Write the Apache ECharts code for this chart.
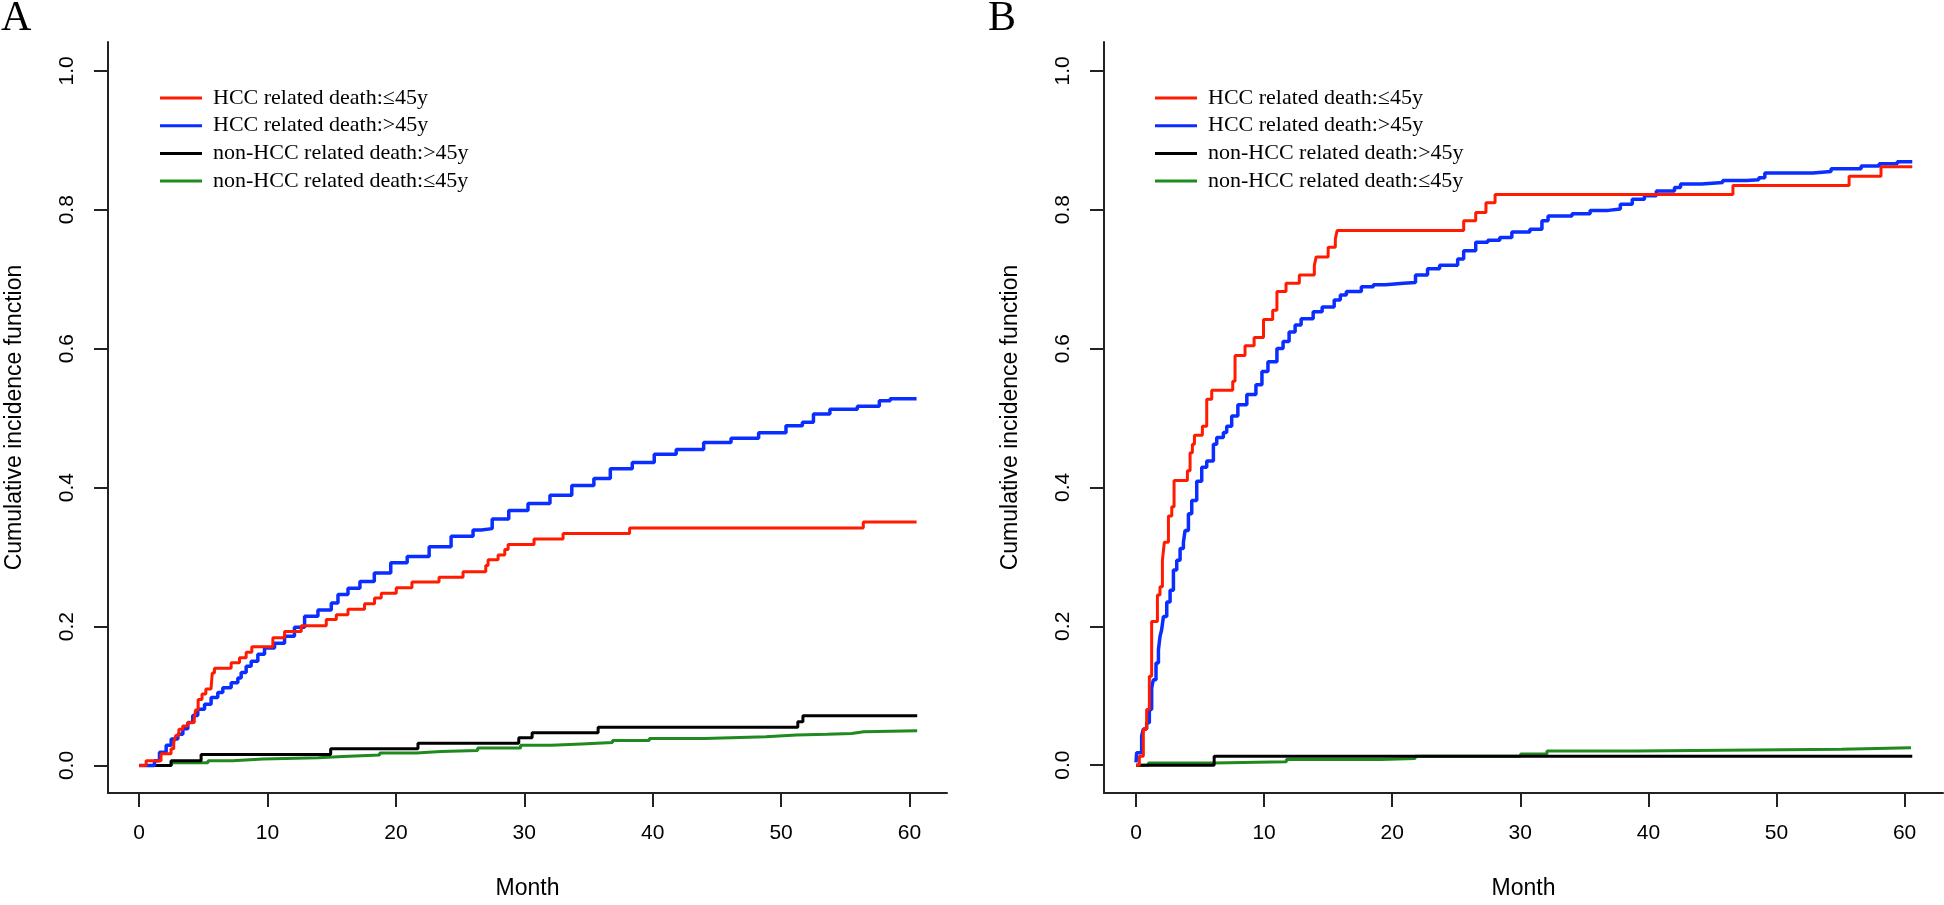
<!DOCTYPE html>
<html>
<head>
<meta charset="utf-8">
<script src="https://cdn.jsdelivr.net/npm/echarts@6/dist/echarts.min.js"></script>
<style>
  html, body { margin: 0; padding: 0; background: #fff; }
  #chart { width: 1944px; height: 905px; }
</style>
</head>
<body>
<div id="chart"></div>
<script>
// legend labels, same order in both panels
const seriesNames = [
  "HCC related death:\u226445y",
  "HCC related death:>45y",
  "non-HCC related death:>45y",
  "non-HCC related death:\u226445y",
];
const seriesColors = ["#ff1a00", "#0a2eff", "#000000", "#1f8a1f"];

const monthTicks = [0, 10, 20, 30, 40, 50, 60];
const cifTicks = [0, 0.2, 0.4, 0.6, 0.8, 1.0];

// panel A: [month, cumulative incidence]
const aHccYoung = [
  [0, 0], [0.55, 0.007], [1.71, 0.017], [2.49, 0.024], [2.7, 0.033], [2.85, 0.043],
  [3.1, 0.052], [3.4, 0.057], [3.8, 0.062], [4.3, 0.067], [4.4, 0.08], [4.6, 0.095],
  [4.9, 0.103], [5.2, 0.11], [5.6, 0.112], [5.7, 0.133], [5.87, 0.14], [7.17, 0.148],
  [7.82, 0.155], [8.34, 0.163], [8.78, 0.171], [10.42, 0.184], [11.33, 0.193],
  [12.63, 0.201], [14.58, 0.21], [15.36, 0.217], [16.27, 0.225], [17.56, 0.233],
  [18.34, 0.241], [18.86, 0.248], [20.03, 0.256], [21.25, 0.264], [23.36, 0.271],
  [25.23, 0.279], [27.0, 0.288], [27.18, 0.296], [27.96, 0.303], [28.48, 0.311],
  [28.74, 0.318], [30.76, 0.326], [33.02, 0.334], [38.2, 0.342], [56.4, 0.3505],
  [60.55, 0.3505],
];
const aHccOld = [
  [0, 0], [1.2, 0.007], [1.59, 0.019], [2.11, 0.029], [2.5, 0.038], [3.02, 0.045],
  [3.41, 0.053], [3.8, 0.062], [4.18, 0.072], [4.57, 0.081], [5.1, 0.088], [5.61, 0.098],
  [6.13, 0.105], [6.52, 0.112], [7.17, 0.119], [7.69, 0.126], [7.95, 0.134], [8.34, 0.143],
  [8.73, 0.15], [9.25, 0.16], [9.77, 0.169], [10.55, 0.176], [11.33, 0.186], [12.1, 0.199],
  [12.89, 0.215], [13.93, 0.224], [14.97, 0.234], [15.49, 0.246], [16.27, 0.255],
  [17.2, 0.265], [18.32, 0.277], [19.6, 0.292], [20.88, 0.301], [22.59, 0.315],
  [24.3, 0.33], [26.01, 0.339], [26.65, 0.341], [27.5, 0.355], [28.79, 0.367],
  [30.29, 0.377], [32.0, 0.389], [33.7, 0.403], [35.42, 0.413], [36.7, 0.427],
  [38.41, 0.436], [40.12, 0.448], [41.83, 0.455], [43.97, 0.465], [46.1, 0.471],
  [48.25, 0.479], [50.38, 0.489], [51.66, 0.494], [52.52, 0.506], [53.8, 0.513],
  [55.94, 0.517], [57.65, 0.525], [58.5, 0.528], [60.55, 0.529],
];
const aOtherOld = [
  [0, 0], [2.49, 0.007], [4.83, 0.016], [14.92, 0.024], [21.72, 0.032], [29.57, 0.04],
  [30.61, 0.047], [35.75, 0.055], [51.3, 0.063], [51.7, 0.0715], [60.6, 0.0715],
];
const aOtherYoung = [
  [0, 0], [2.51, 0.004], [5.37, 0.007], [7.28, 0.0095], [9.66, 0.011], [13.96, 0.013],
  [15.87, 0.015], [18.74, 0.018], [21.6, 0.02], [23.51, 0.0215], [26.37, 0.025],
  [29.71, 0.029], [32.1, 0.031], [34.48, 0.033], [36.87, 0.036], [39.74, 0.039],
  [44.03, 0.0415], [48.81, 0.044], [51.19, 0.045], [53.58, 0.046], [55.49, 0.0486],
  [56.44, 0.05], [60.6, 0.05],
];

// panel B
const bHccYoung = [
  [0, 0], [0.26, 0.013], [0.57, 0.052], [0.83, 0.08], [1.04, 0.128], [1.22, 0.207],
  [1.67, 0.245], [1.87, 0.257], [2.06, 0.295], [2.21, 0.321], [2.53, 0.359], [2.79, 0.372],
  [2.97, 0.41], [4.01, 0.424], [4.22, 0.45], [4.4, 0.462], [4.56, 0.475], [5.18, 0.488],
  [5.52, 0.527], [5.91, 0.54], [7.55, 0.553], [7.73, 0.59], [8.51, 0.604], [9.22, 0.616],
  [9.95, 0.642], [10.67, 0.655], [11.0, 0.682], [11.71, 0.694], [12.75, 0.706],
  [13.92, 0.72], [14.07, 0.732], [15.0, 0.746], [15.56, 0.758], [15.7, 0.77],
  [25.58, 0.784], [26.52, 0.796], [27.32, 0.81], [28.03, 0.822], [46.6, 0.835],
  [55.67, 0.848], [58.16, 0.862], [60.6, 0.862],
];
const bHccOld = [
  [0, 0.004], [0.05, 0.018], [0.44, 0.042], [0.57, 0.052], [0.83, 0.061], [1.04, 0.08],
  [1.22, 0.111], [1.35, 0.123], [1.56, 0.147], [1.75, 0.166], [1.87, 0.185], [2.0, 0.195],
  [2.14, 0.214], [2.4, 0.235], [2.66, 0.252], [2.92, 0.281], [3.18, 0.295], [3.44, 0.312],
  [3.7, 0.321], [3.83, 0.338], [4.09, 0.362], [4.35, 0.381], [4.74, 0.409], [5.13, 0.429],
  [5.52, 0.438], [6.04, 0.462], [6.3, 0.472], [6.82, 0.479], [7.08, 0.488], [7.47, 0.503],
  [7.95, 0.519], [8.65, 0.534], [9.36, 0.548], [9.83, 0.567], [10.3, 0.581], [11.0, 0.6],
  [11.48, 0.61], [11.95, 0.624], [12.42, 0.634], [12.89, 0.643], [13.83, 0.653],
  [14.53, 0.66], [15.47, 0.67], [15.95, 0.677], [16.42, 0.682], [17.59, 0.689],
  [18.53, 0.692], [19.47, 0.694], [20.88, 0.695], [21.82, 0.706], [22.76, 0.715],
  [23.7, 0.72], [25.11, 0.729], [25.58, 0.741], [26.52, 0.753], [27.46, 0.756],
  [28.4, 0.76], [29.34, 0.768], [30.75, 0.772], [31.69, 0.784], [32.17, 0.791],
  [34.04, 0.794], [35.45, 0.799], [36.87, 0.801], [37.81, 0.808], [38.74, 0.815],
  [39.69, 0.82], [40.62, 0.827], [42.04, 0.832], [42.51, 0.837], [44.15, 0.839],
  [45.8, 0.842], [47.68, 0.843], [48.62, 0.846], [49.09, 0.853], [52.85, 0.855],
  [54.26, 0.859], [56.61, 0.863], [58.02, 0.866], [59.43, 0.869], [60.6, 0.87],
];
const bOtherOld = [
  [0, 0], [6.1, 0.013], [60.6, 0.013],
];
const bOtherYoung = [
  [0, 0], [0.96, 0.003], [6.1, 0.005], [11.74, 0.008], [19.09, 0.0095], [21.79, 0.013],
  [30.02, 0.016], [32.08, 0.0205], [38.94, 0.023], [55.11, 0.025], [60.5, 0.025],
];

const panelA = [aHccYoung, aHccOld, aOtherOld, aOtherYoung];
const panelB = [bHccYoung, bHccOld, bOtherOld, bOtherYoung];

const chart = echarts.init(document.getElementById("chart"));

const sansFont = "'Liberation Sans', Arial, sans-serif";
const serifFont = "'Liberation Serif', 'Times New Roman', serif";

const makeXAxis = (gridIndex, min, max) => ({
  type: "value",
  gridIndex,
  min,
  max,
  name: "Month",
  nameLocation: "middle",
  nameGap: 84,
  nameTextStyle: { color: "#000", fontSize: 23, fontFamily: sansFont },
  axisLine: { show: true, onZero: false, lineStyle: { color: "#222", width: 2 } },
  axisTick: { show: true, length: 14, customValues: monthTicks, lineStyle: { color: "#222", width: 2 } },
  axisLabel: { customValues: monthTicks, margin: 30, color: "#000", fontSize: 21, fontFamily: sansFont },
  splitLine: { show: false },
});

const makeYAxis = (gridIndex, min, max) => ({
  type: "value",
  gridIndex,
  min,
  max,
  name: "Cumulative incidence function",
  nameLocation: "middle",
  nameRotate: 90,
  nameGap: 82,
  nameTextStyle: { color: "#000", fontSize: 23, fontFamily: sansFont },
  axisLine: { show: true, onZero: false, lineStyle: { color: "#222", width: 2 } },
  axisTick: { show: true, length: 14, customValues: cifTicks, lineStyle: { color: "#222", width: 2 } },
  axisLabel: {
    customValues: cifTicks,
    rotate: 90,
    margin: 30,
    color: "#000",
    fontSize: 21,
    fontFamily: sansFont,
    formatter: (v) => v.toFixed(1),
  },
  splitLine: { show: false },
});

const makeLegend = (left) => ({
  orient: "vertical",
  left,
  top: 87,
  padding: 0,
  itemGap: 5.7,
  itemWidth: 42,
  itemHeight: 3,
  icon: "rect",
  selectedMode: false,
  data: seriesNames,
  textStyle: {
    color: "#000",
    fontSize: 22,
    lineHeight: 22,
    fontFamily: serifFont,
    padding: [0, 0, 0, 6],
  },
});

const makeSeries = (panel, idx) =>
  panel.map((data, i) => ({
    name: seriesNames[i],
    type: "line",
    step: "end",
    xAxisIndex: idx,
    yAxisIndex: idx,
    data,
    showSymbol: false,
    symbol: "none",
    z: 10 - i,
    lineStyle: { color: seriesColors[i], width: i === 1 ? 3.5 : 3 },
    itemStyle: { color: seriesColors[i] },
  }));

chart.setOption({
  animation: false,
  backgroundColor: "#fff",
  title: [
    { text: "A", left: 1, top: -2, padding: 0, textStyle: { fontSize: 42, fontWeight: "normal", fontFamily: serifFont, color: "#000" } },
    { text: "B", left: 988, top: -2, padding: 0, textStyle: { fontSize: 42, fontWeight: "normal", fontFamily: serifFont, color: "#000" } },
  ],
  grid: [
    { left: 108, top: 42, width: 839, height: 756 },
    { left: 1104, top: 42, width: 839, height: 755 },
  ],
  xAxis: [makeXAxis(0, -2.42, 62.92), makeXAxis(1, -2.5, 63.0)],
  yAxis: [makeYAxis(0, -0.0396, 1.0415), makeYAxis(1, -0.0401, 1.0415)],
  legend: [makeLegend(160), makeLegend(1155)],
  series: [...makeSeries(panelA, 0), ...makeSeries(panelB, 1)],
});

window.addEventListener("resize", chart.resize);
</script>
</body>
</html>
